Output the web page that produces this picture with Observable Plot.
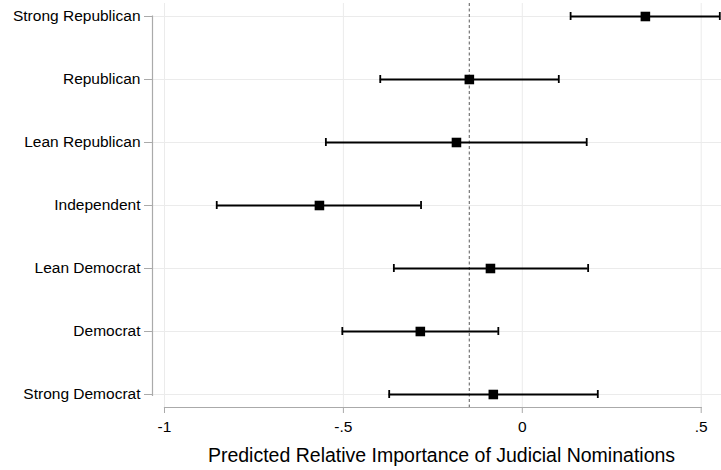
<!DOCTYPE html>
<html>
<head>
<meta charset="utf-8">
<script src="https://cdn.jsdelivr.net/npm/d3@7"></script>
<script src="https://cdn.jsdelivr.net/npm/@observablehq/plot@0.6"></script>
<style>
  html, body { margin: 0; padding: 0; background: #fff; }
  #chart svg { display: block; }
</style>
</head>
<body>
<div id="chart"></div>
<script>
const categories = ["Strong Republican", "Republican", "Lean Republican", "Independent", "Lean Democrat", "Democrat", "Strong Democrat"];
const estimates = [0.344, -0.148, -0.184, -0.567, -0.089, -0.285, -0.081];
const lower = [0.135, -0.397, -0.549, -0.854, -0.359, -0.503, -0.372];
const upper = [0.552, 0.102, 0.180, -0.283, 0.184, -0.067, 0.211];
const referenceValue = -0.148;
const xTicks = [-1, -0.5, 0, 0.5];
const xTitle = "Predicted Relative Importance of Judicial Nominations";

const data = categories.map((c, i) => ({party: c, est: estimates[i], lo: lower[i], hi: upper[i]}));
const fmt = d => String(d).replace(/^(-?)0\./, "$1.");

const font = "'Liberation Sans', Arial, Helvetica, sans-serif";
const gridColor = "#ebebeb";
const axisColor = "#aaaaaa";

const chart = Plot.plot({
  width: 721,
  height: 470,
  marginLeft: 152,
  marginRight: 0,
  marginTop: 3,
  marginBottom: 63,
  style: {fontFamily: font, background: "#fff", color: "#000"},
  x: {domain: [-1, 0.5], range: [164, 700.7]},
  y: {type: "point", domain: categories, range: [15.5, 395], padding: 0},
  marks: [
    Plot.gridX(xTicks, {stroke: gridColor, strokeOpacity: 1, strokeWidth: 1}),
    Plot.gridY(categories, {stroke: gridColor, strokeOpacity: 1, strokeWidth: 1}),
    Plot.frame({anchor: "left", stroke: axisColor, strokeWidth: 1.2, insetTop: 12.5, insetBottom: 12}),
    Plot.frame({anchor: "bottom", stroke: axisColor, strokeWidth: 1.2, insetLeft: 12, insetRight: 20.3}),
    Plot.axisY({tickSize: 8, tickPadding: 4, fontSize: 15.5, stroke: axisColor, color: "#000", label: null}),
    Plot.axisX(xTicks, {tickSize: 6, tickPadding: 7, fontSize: 15.5, stroke: axisColor, tickFormat: fmt, label: null}),
    Plot.ruleX([referenceValue], {stroke: "#808080", strokeWidth: 1.3, strokeDasharray: "3,2.5"}),
    Plot.ruleY(data, {y: "party", x1: "lo", x2: "hi", stroke: "#000", strokeWidth: 2}),
    Plot.ruleX(data, {x: "lo", y1: "party", y2: "party", insetTop: -4, insetBottom: -4, stroke: "#000", strokeWidth: 1.8}),
    Plot.ruleX(data, {x: "hi", y1: "party", y2: "party", insetTop: -4, insetBottom: -4, stroke: "#000", strokeWidth: 1.8}),
    Plot.dot(data, {x: "est", y: "party", symbol: "square", r: 5.4, fill: "#000", stroke: "none"}),
    Plot.text([xTitle], {frameAnchor: "bottom", dx: 4.5, dy: 48, fontSize: 19.5, fill: "#000", textAnchor: "middle", lineAnchor: "middle"})
  ]
});
document.getElementById("chart").appendChild(chart);
</script>
</body>
</html>
